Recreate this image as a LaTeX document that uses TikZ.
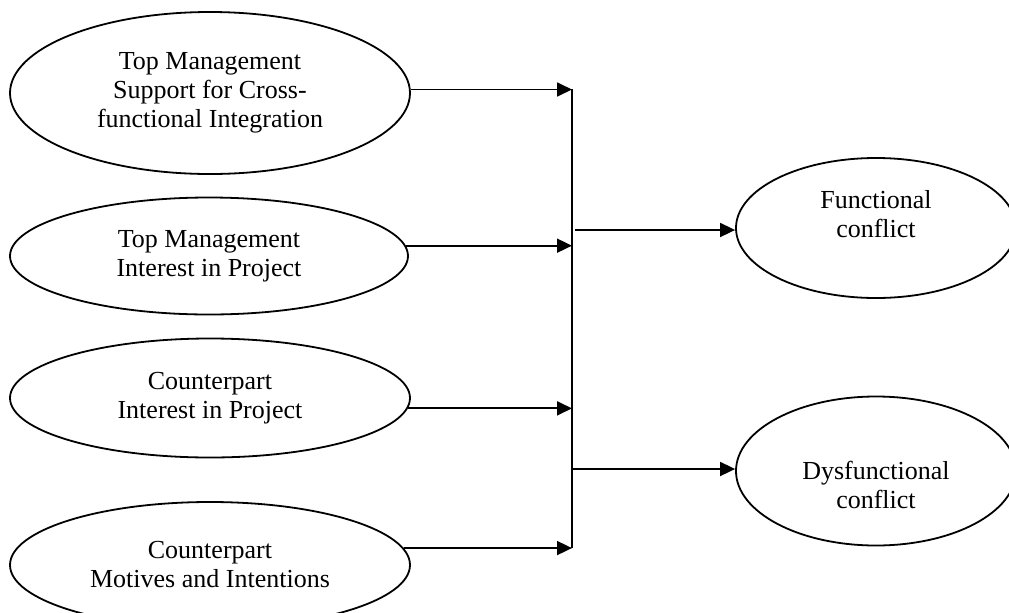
\documentclass[tikz,border=0pt]{standalone}
\usepackage{fontspec}
\setmainfont{Liberation Serif}
\usetikzlibrary{shapes.geometric,arrows.meta}

\begin{document}
\begin{tikzpicture}[
  x=0.5pt, y=-0.5pt,
  >={Triangle[length=7.5pt,width=7pt]},
  line width=0.9pt,
  oval/.style={ellipse, draw=black, inner sep=0pt, align=center,
    font=\fontsize{13}{14.5}\selectfont, minimum width=200pt},
  bus/.style={line width=1.1pt}
]
  \clip (0,0) rectangle (1009,612);

  % Antecedents
  \node[oval, minimum height=81pt] (e1) at (210,93) {Top Management\\Support for Cross-\\functional Integration};
  \node[oval, minimum height=58.5pt, minimum width=199pt] (e2) at (209,256) {Top Management\\Interest in Project};
  \node[oval, minimum height=59.5pt] (e3) at (210,398) {Counterpart\\Interest in Project};
  \node[oval, minimum height=63pt] (e4) at (210,565) {Counterpart\\Motives and Intentions};

  % Outcomes
  \node[oval, minimum width=140pt, minimum height=70pt,
    label={[yshift=7pt, align=center, font=\fontsize{13}{14.5}\selectfont]center:Functional\\conflict}] (fc) at (876,228) {};
  \node[oval, minimum width=140pt, minimum height=74.5pt,
    label={[yshift=-7pt, align=center, font=\fontsize{13}{14.5}\selectfont]center:Dysfunctional\\conflict}] (dc) at (876,471) {};

  % Bus
  \coordinate (bt) at (572,89);
  \coordinate (bb) at (572,548);
  \draw[bus] (bt) -- (bb);

  % Inputs to bus
  \draw[->] (e1.1) -- (e1.1 -| bt);
  \draw[->] (e2.3) -- (e2.3 -| bt);
  \draw[->] (e3.-3) -- (e3.-3 -| bt);
  \draw[->] (e4.5) -- (e4.5 -| bt);

  % Bus to outcomes
  \coordinate (o1) at (575,230);
  \coordinate (o2) at (572,469);
  \draw[->] (o1) -- (o1 -| fc.west);
  \draw[->] (o2) -- (o2 -| dc.west);
\end{tikzpicture}
\end{document}
